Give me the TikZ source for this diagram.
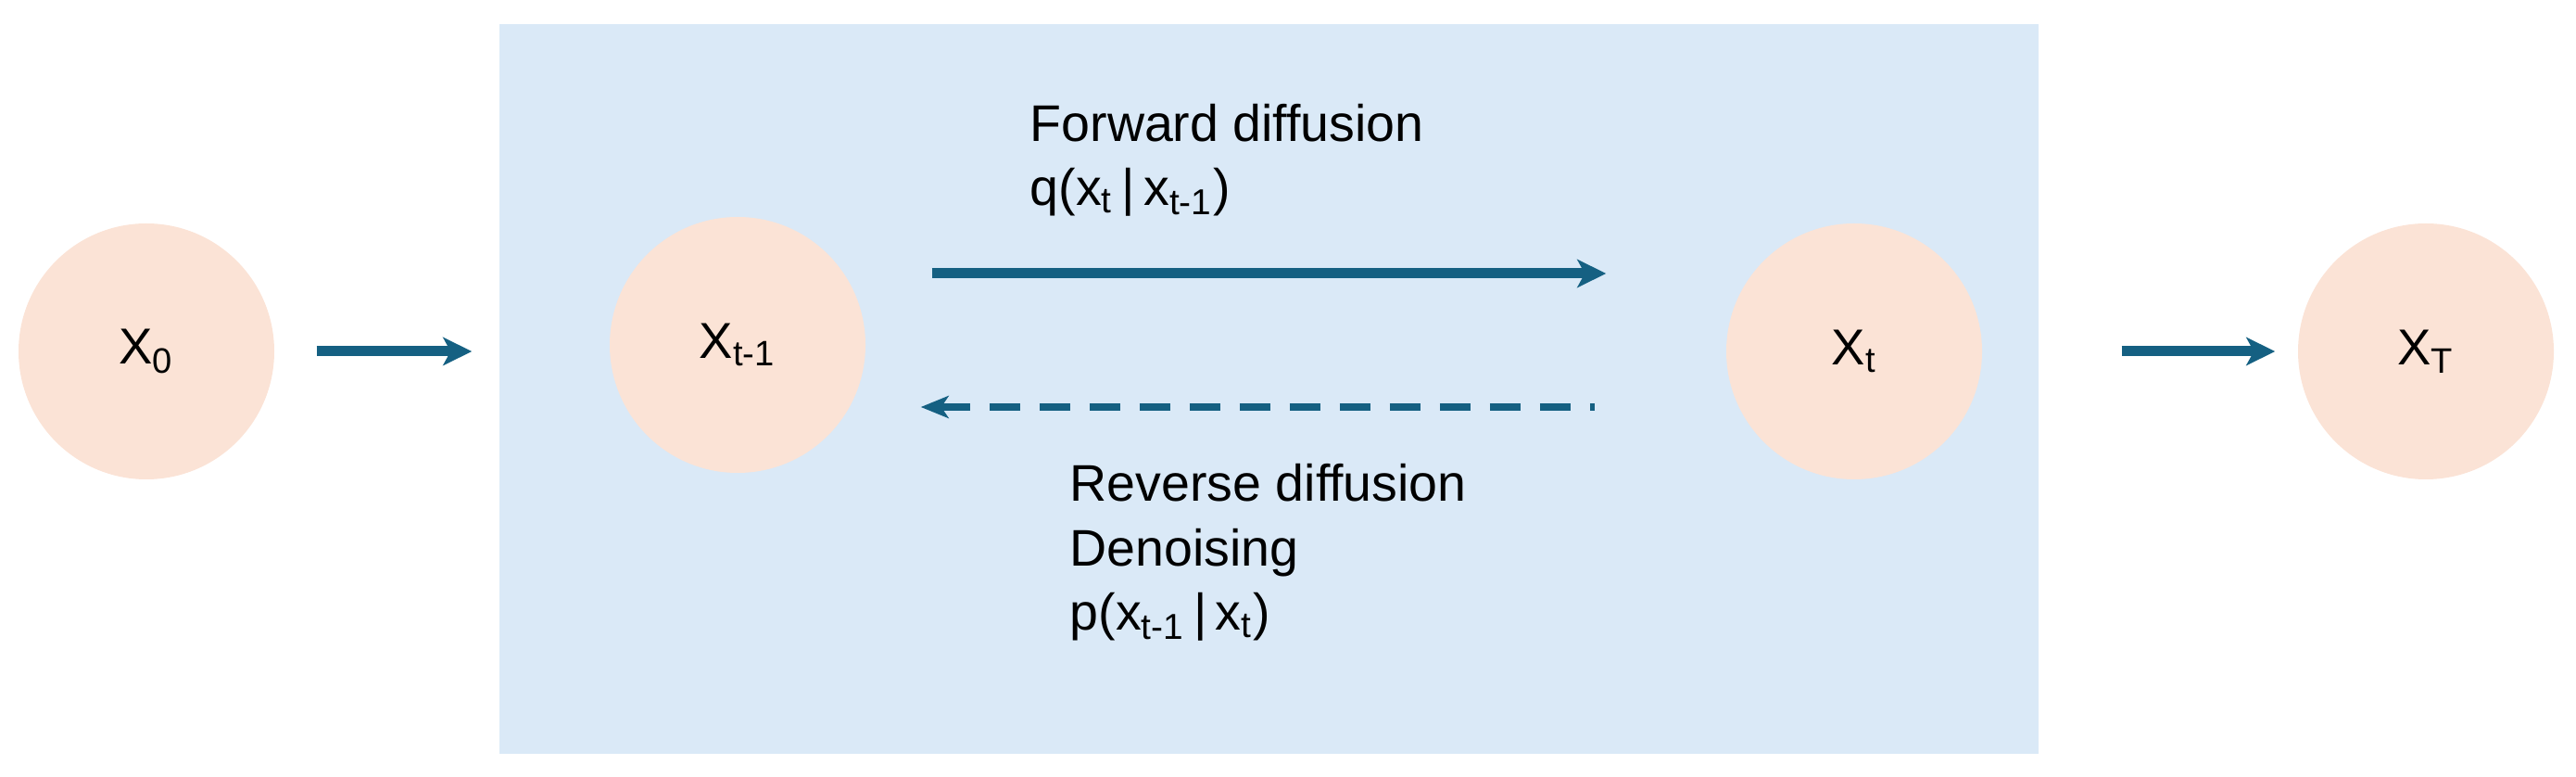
\documentclass[tikz,border=0pt]{standalone}
\usepackage{fontspec}
\setmainfont{Liberation Sans}
\usetikzlibrary{arrows.meta, positioning}

\definecolor{boxblue}{HTML}{DAE9F7}
\definecolor{peach}{HTML}{FBE3D6}
\definecolor{arrowblue}{HTML}{156082}

\begin{document}
\begin{tikzpicture}[
		state/.style={circle, fill=peach, minimum size=2.76cm, inner sep=0pt,
			font=\fontsize{15.5}{19.9}\selectfont},
		notes/.style={align=left, inner sep=0pt,
			font=\fontsize{15.8}{19.9}\selectfont},
		flow/.style={arrowblue, line width=1.1mm,
			-{Stealth[length=3.1mm, width=3mm, inset=0.8mm]}},
		back/.style={arrowblue, line width=0.8mm, dash pattern=on 3.3mm off 2.1mm,
			{Stealth[length=3mm, width=2.4mm, inset=0.8mm]}-}
	]
	\useasboundingbox (0,0) rectangle (27.8,8.37);

	% the diffusion chain
	\node [fill=boxblue, minimum width=16.61cm, minimum height=7.87cm,
	inner sep=0pt] (chain) at (13.695,4.175) {};

	\node [state] (x0) at (1.58,4.58) {X\textsubscript{0}};
	\node [state] (xtm1) at (7.96,4.65) {X\textsubscript{t-1}};
	\node [state] (xt) at (20.01,4.58) {X\textsubscript{t}};
	\node [state] (xT) at (26.18,4.58) {X\textsubscript{T}};

	\coordinate (fwdrow) at (0,5.42);
	\coordinate (bwdrow) at (0,3.98);

	\draw [flow, shorten <=4.5mm, shorten >=2.9mm] (x0) -- (x0 -| chain.west);
	\draw [flow, shorten <=8.9mm, shorten >=2.4mm] (chain.east |- xT) -- (xT);

	\draw [flow, shorten <=7.1mm, shorten >=12.9mm]
		(xtm1.east |- fwdrow) -- (xt.west |- fwdrow);
	\draw [back, shorten <=5.9mm, shorten >=14.1mm]
		(xtm1.east |- bwdrow) -- (xt.west |- bwdrow);

	% base of a multi-line node sits on its last line
	\node [notes, anchor=base west] (fwdtext) at (11.11,6.15)
		{Forward diffusion\\q(x\textsubscript{t}\,|\,x\textsubscript{t-1})};
	\node [notes, anchor=base west] (bwdtext) at (11.54,1.57)
		{Reverse diffusion\\Denoising\\p(x\textsubscript{t-1}\,|\,x\textsubscript{t})};
\end{tikzpicture}
\end{document}
